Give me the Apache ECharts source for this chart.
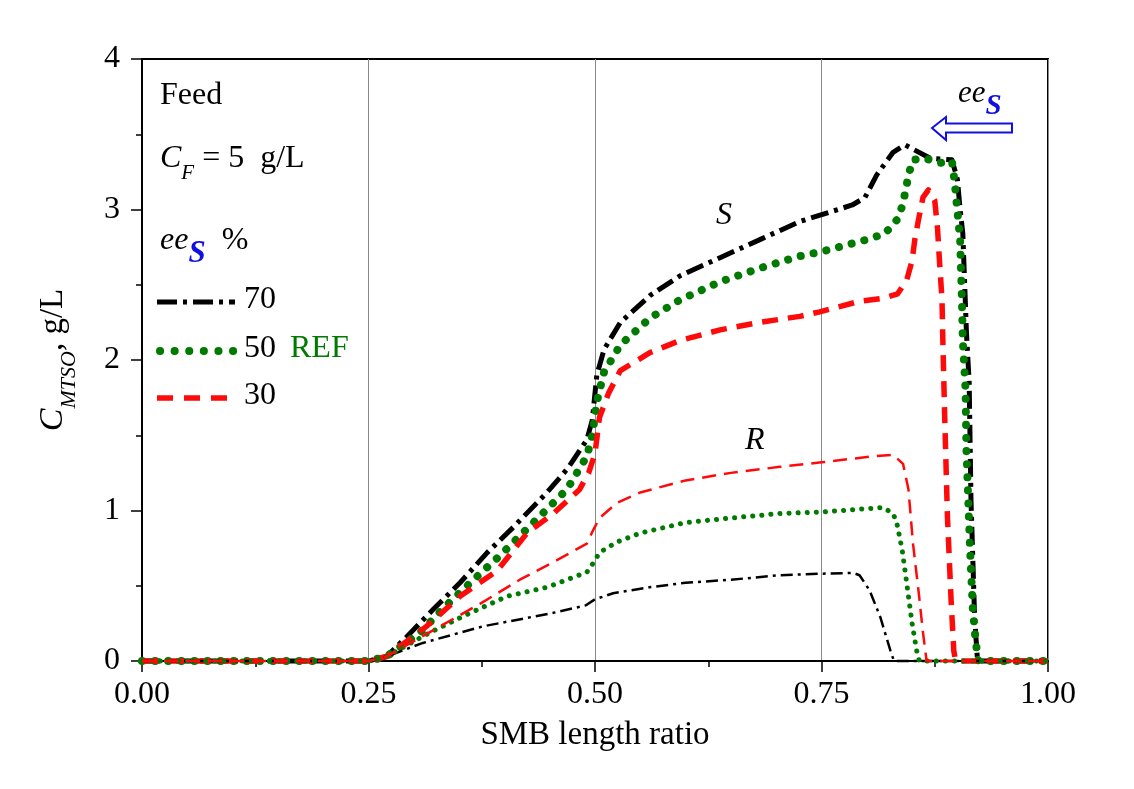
<!DOCTYPE html>
<html>
<head>
<meta charset="utf-8">
<script src="https://cdn.jsdelivr.net/npm/echarts@6/dist/echarts.min.js"></script>
<style>
html,body{margin:0;padding:0;background:#fff;}
#chart{width:1134px;height:789px;}
</style>
</head>
<body>
<div id="chart"></div>
<script>
// ---- data (x = SMB length ratio, y = C_MTSO g/L) ----
const xTicks = [0, 0.25, 0.5, 0.75, 1.0];
const yTicks = [0, 1, 2, 3, 4];

const s70 = [[0,0],[0.25,0],[0.27,0.03],[0.292,0.16],[0.321,0.34],[0.351,0.52],[0.381,0.72],[0.41,0.89],[0.447,1.12],[0.47,1.28],[0.491,1.47],[0.497,1.6],[0.502,1.9],[0.51,2.07],[0.528,2.25],[0.561,2.43],[0.594,2.56],[0.638,2.68],[0.682,2.80],[0.726,2.92],[0.784,3.03],[0.798,3.08],[0.811,3.23],[0.829,3.38],[0.842,3.43],[0.87,3.34],[0.894,3.33],[0.9,3.2],[0.903,3.0],[0.906,2.84],[0.91,2.18],[0.913,1.85],[0.915,1.07],[0.919,0.29],[0.922,0.02],[0.925,0],[1,0]];
const s50 = [[0,0],[0.25,0],[0.27,0.03],[0.307,0.19],[0.336,0.37],[0.366,0.54],[0.395,0.70],[0.432,0.92],[0.469,1.14],[0.491,1.36],[0.497,1.5],[0.502,1.72],[0.51,1.92],[0.528,2.10],[0.561,2.28],[0.594,2.40],[0.638,2.52],[0.682,2.61],[0.726,2.69],[0.75,2.72],[0.8,2.80],[0.82,2.84],[0.833,2.93],[0.839,3.02],[0.843,3.13],[0.846,3.23],[0.851,3.33],[0.864,3.34],[0.881,3.31],[0.894,3.32],[0.897,3.18],[0.903,2.8],[0.905,2.4],[0.906,2.13],[0.909,1.8],[0.91,1.40],[0.914,0.74],[0.917,0.35],[0.92,0.14],[0.923,0],[1,0]];
const s30 = [[0,0],[0.25,0],[0.27,0.03],[0.314,0.23],[0.351,0.43],[0.392,0.60],[0.425,0.85],[0.454,0.98],[0.483,1.14],[0.493,1.25],[0.5,1.38],[0.505,1.62],[0.515,1.78],[0.528,1.93],[0.561,2.05],[0.594,2.13],[0.638,2.2],[0.682,2.25],[0.726,2.29],[0.748,2.32],[0.792,2.39],[0.818,2.41],[0.834,2.44],[0.844,2.53],[0.85,2.66],[0.853,2.80],[0.857,2.93],[0.862,3.08],[0.868,3.13],[0.875,3.06],[0.878,2.88],[0.88,2.68],[0.883,2.4],[0.884,2.11],[0.886,1.62],[0.889,0.96],[0.893,0.41],[0.896,0.07],[0.898,0],[1,0]];
const r70 = [[0,0],[0.25,0],[0.27,0.03],[0.31,0.12],[0.376,0.23],[0.454,0.32],[0.49,0.37],[0.5,0.41],[0.52,0.45],[0.56,0.49],[0.6,0.52],[0.65,0.54],[0.704,0.57],[0.75,0.58],[0.785,0.585],[0.792,0.57],[0.803,0.47],[0.815,0.29],[0.826,0.07],[0.83,0],[1,0]];
const r50 = [[0,0],[0.25,0],[0.27,0.03],[0.318,0.19],[0.359,0.31],[0.403,0.43],[0.447,0.49],[0.491,0.59],[0.498,0.65],[0.505,0.72],[0.524,0.79],[0.55,0.85],[0.6,0.92],[0.65,0.95],[0.704,0.98],[0.75,0.99],[0.818,1.02],[0.829,0.98],[0.833,0.92],[0.839,0.74],[0.844,0.52],[0.85,0.25],[0.855,0.07],[0.858,0],[1,0]];
const r30 = [[0,0],[0.25,0],[0.27,0.03],[0.329,0.23],[0.373,0.38],[0.417,0.54],[0.458,0.67],[0.491,0.78],[0.498,0.87],[0.505,0.95],[0.524,1.05],[0.55,1.12],[0.6,1.2],[0.65,1.25],[0.704,1.29],[0.75,1.32],[0.807,1.36],[0.829,1.37],[0.84,1.31],[0.846,1.14],[0.851,0.78],[0.857,0.47],[0.862,0.19],[0.866,0],[1,0]];

const legendLabels = ['70', '50', '30'];

const FONT = '"Liberation Serif", "DejaVu Serif", serif';
const BLACK = '#000000', GREEN = '#007a00', RED = '#ff0a0a', BLUE = '#1010e0';

const styles = {
  s70: {color: BLACK, width: 5, type: [18, 6, 4, 6], cap: 'butt'},
  s50: {color: GREEN, width: 8, type: [0.1, 13], cap: 'round'},
  s30: {color: RED, width: 5.5, type: [16, 10], cap: 'butt'},
  r70: {color: BLACK, width: 2.5, type: [12, 5, 3, 5], cap: 'butt'},
  r50: {color: GREEN, width: 5, type: [0.1, 9], cap: 'round'},
  r30: {color: RED, width: 2.5, type: [14, 8], cap: 'butt'}
};

function mk(name, data, st) {
  return {
    name: name, type: 'line', data: data, showSymbol: false, symbol: 'none',
    clip: false, animation: false, silent: true,
    lineStyle: {color: st.color, width: st.width, type: st.type, cap: st.cap, join: 'round'},
    itemStyle: {color: st.color}
  };
}

const chart = echarts.init(document.getElementById('chart'), null, {renderer: 'canvas'});

const lx0 = 157, lx1 = 235;
const legendY = [302, 351, 398];

chart.setOption({
  backgroundColor: '#ffffff',
  animation: false,
  grid: {left: 142, right: 86, top: 59, bottom: 128, show: true, borderColor: '#000', borderWidth: 2, backgroundColor: 'transparent'},
  xAxis: {
    type: 'value', min: 0, max: 1, interval: 0.25,
    name: 'SMB length ratio', nameLocation: 'middle', nameGap: 58,
    nameTextStyle: {fontFamily: FONT, fontSize: 33, color: '#000'},
    axisLine: {show: true, onZero: false, lineStyle: {color: '#000', width: 2}},
    axisTick: {show: true, inside: false, length: 11, lineStyle: {color: '#000', width: 1.5}},
    minorTick: {show: true, splitNumber: 2, length: 6, lineStyle: {color: '#000', width: 1.5}},
    splitLine: {show: true, lineStyle: {color: '#8a8a8a', width: 1}},
    axisLabel: {fontFamily: FONT, fontSize: 32, color: '#000', margin: 18, formatter: v => v.toFixed(2)}
  },
  yAxis: {
    type: 'value', min: 0, max: 4, interval: 1,
    name: '{c|C}{sub|MTSO}{n|, g/L}', nameLocation: 'middle', nameGap: 72,
    nameTextStyle: {
      fontFamily: FONT, color: '#000',
      rich: {
        c: {fontFamily: FONT, fontSize: 34, fontStyle: 'italic', color: '#000', lineHeight: 40, verticalAlign: 'bottom'},
        sub: {fontFamily: FONT, fontSize: 22, fontStyle: 'italic', color: '#000', lineHeight: 40, verticalAlign: 'bottom', padding: [0, 0, -10, 0]},
        n: {fontFamily: FONT, fontSize: 33, color: '#000', lineHeight: 40, verticalAlign: 'bottom'}
      }
    },
    axisLine: {show: true, onZero: false, lineStyle: {color: '#000', width: 2}},
    axisTick: {show: true, inside: false, length: 11, lineStyle: {color: '#000', width: 1.5}},
    minorTick: {show: true, splitNumber: 2, length: 6, lineStyle: {color: '#000', width: 1.5}},
    splitLine: {show: false},
    axisLabel: {fontFamily: FONT, fontSize: 32, color: '#000', margin: 22}
  },
  series: [
    mk('S70', s70, styles.s70),
    mk('S50', s50, styles.s50),
    mk('S30', s30, styles.s30),
    mk('R70', r70, styles.r70),
    mk('R50', r50, styles.r50),
    mk('R30', r30, styles.r30)
  ],
  graphic: [
    {type: 'text', left: 160, top: 80, style: {text: 'Feed', font: '32px ' + FONT, fill: '#000'}},
    {type: 'text', left: 160, top: 143, style: {
      text: '{c|C}{sub|F}{n| = 5  g/L}',
      rich: {
        c: {font: 'italic 32px ' + FONT, fill: '#000', lineHeight: 36, verticalAlign: 'bottom'},
        sub: {font: 'italic 21px ' + FONT, fill: '#000', lineHeight: 36, verticalAlign: 'bottom', padding: [0, 0, -9, 0]},
        n: {font: '32px ' + FONT, fill: '#000', lineHeight: 36, verticalAlign: 'bottom'}
      }}},
    {type: 'text', left: 160, top: 225, style: {
      text: '{e|ee}{s|S}{n|  %}',
      rich: {
        e: {font: 'italic 32px ' + FONT, fill: '#000', lineHeight: 36, verticalAlign: 'bottom'},
        s: {font: 'italic bold 31px ' + FONT, fill: BLUE, lineHeight: 36, verticalAlign: 'bottom', padding: [0, 0, -12, 0]},
        n: {font: '32px ' + FONT, fill: '#000', lineHeight: 36, verticalAlign: 'bottom'}
      }}},
    {type: 'line', shape: {x1: lx0, y1: legendY[0], x2: lx1, y2: legendY[0]}, style: {stroke: BLACK, lineWidth: 5, lineDash: [20, 6, 4, 6]}},
    {type: 'line', shape: {x1: lx0 + 3, y1: legendY[1], x2: lx1, y2: legendY[1]}, style: {stroke: GREEN, lineWidth: 8, lineDash: [0.1, 14.5], lineCap: 'round'}},
    {type: 'line', shape: {x1: lx0, y1: legendY[2], x2: lx1, y2: legendY[2]}, style: {stroke: RED, lineWidth: 5.5, lineDash: [16, 11]}},
    {type: 'text', left: 244, top: legendY[0] - 18, style: {text: legendLabels[0], font: '32px ' + FONT, fill: '#000'}},
    {type: 'text', left: 244, top: legendY[1] - 18, style: {text: legendLabels[1], font: '32px ' + FONT, fill: '#000'}},
    {type: 'text', left: 290, top: legendY[1] - 18, style: {text: 'REF', font: '32px ' + FONT, fill: GREEN}},
    {type: 'text', left: 244, top: legendY[2] - 18, style: {text: legendLabels[2], font: '32px ' + FONT, fill: '#000'}},
    {type: 'text', left: 716, top: 200, style: {text: 'S', font: 'italic 32px ' + FONT, fill: '#000'}},
    {type: 'text', left: 745, top: 425, style: {text: 'R', font: 'italic 32px ' + FONT, fill: '#000'}},
    {type: 'text', left: 958, top: 78, style: {
      text: '{e|ee}{s|S}',
      rich: {
        e: {font: 'italic 31px ' + FONT, fill: '#000', lineHeight: 34, verticalAlign: 'bottom'},
        s: {font: 'italic bold 29px ' + FONT, fill: BLUE, lineHeight: 34, verticalAlign: 'bottom', padding: [0, 0, -12, 0]}
      }}},
    {type: 'polygon', shape: {points: [[932, 128], [946, 117], [946, 123.5], [1012, 123.5], [1012, 132.5], [946, 132.5], [946, 140]]},
      style: {fill: '#ffffff', stroke: BLUE, lineWidth: 2}}
  ]
});
</script>
</body>
</html>
